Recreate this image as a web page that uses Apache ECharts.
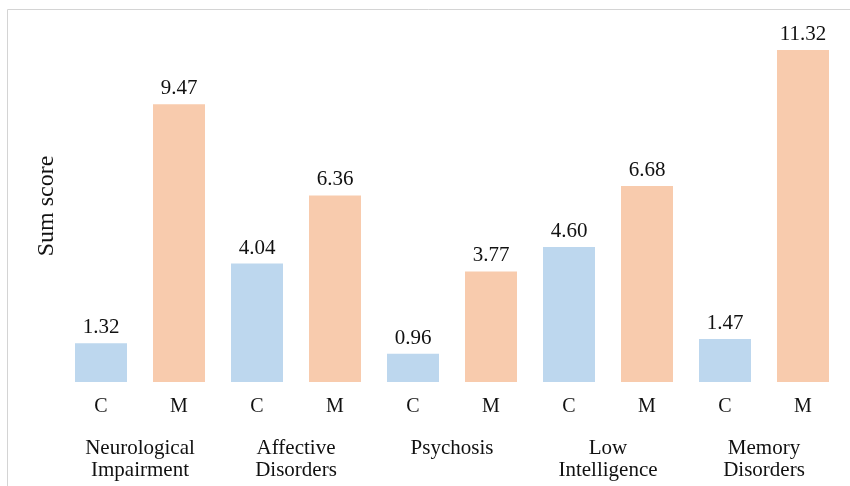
<!DOCTYPE html>
<html>
<head>
<meta charset="utf-8">
<script src="https://cdn.jsdelivr.net/npm/echarts@6/dist/echarts.min.js"></script>
<style>html,body{margin:0;padding:0;background:#fff}#c{width:850px;height:486px}</style>
</head>
<body>
<div id="c"></div>
<script>
var groups = ['Neurological\nImpairment', 'Affective\nDisorders', 'Psychosis', 'Low\nIntelligence', 'Memory\nDisorders'];
var subLabels = ['C', 'M'];
var cValues = [1.32, 4.04, 0.96, 4.60, 1.47];
var mValues = [9.47, 6.36, 3.77, 6.68, 11.32];
var colorC = '#bdd7ee';
var colorM = '#f8cbad';
var font = '"Liberation Serif", "Times New Roman", serif';

var cats = [];
var data = [];
for (var i = 0; i < groups.length; i++) {
  cats.push(subLabels[0]); data.push({value: cValues[i], itemStyle: {color: colorC}});
  cats.push(subLabels[1]); data.push({value: mValues[i], itemStyle: {color: colorM}});
}

var chart = echarts.init(document.getElementById('c'), null, {renderer: 'canvas'});
chart.setOption({
  animation: false,
  grid: {left: 62, right: 8, top: 30, bottom: 104, containLabel: false},
  xAxis: [{
    type: 'category', data: cats,
    axisLine: {show: false}, axisTick: {show: false},
    axisLabel: {fontFamily: font, fontSize: 20, color: '#111', margin: 15}
  }, {
    type: 'category', data: groups, position: 'bottom',
    axisLine: {show: false}, axisTick: {show: false},
    axisLabel: {fontFamily: font, fontSize: 21, color: '#111', margin: 55, lineHeight: 22}
  }],
  yAxis: {
    type: 'value', min: 0, max: 12, show: true,
    axisLine: {show: false}, axisTick: {show: false}, axisLabel: {show: false}, splitLine: {show: false},
    name: 'Sum score', nameLocation: 'middle', nameGap: 3, nameRotate: 90,
    nameTextStyle: {fontFamily: font, fontSize: 24, color: '#111'}
  },
  series: [{
    type: 'bar', xAxisIndex: 0, data: data, barWidth: 52,
    label: {show: true, position: 'top', distance: 5, fontFamily: font, fontSize: 21, color: '#111',
      formatter: function (p) { return p.value.toFixed(2); }}
  }],
  graphic: [
    {type: 'line', shape: {x1: 7.5, y1: 9.5, x2: 850, y2: 9.5}, style: {stroke: '#d4d4d4', lineWidth: 1}},
    {type: 'line', shape: {x1: 7.5, y1: 9.5, x2: 7.5, y2: 486}, style: {stroke: '#d4d4d4', lineWidth: 1}}
  ]
});
</script>
</body>
</html>
